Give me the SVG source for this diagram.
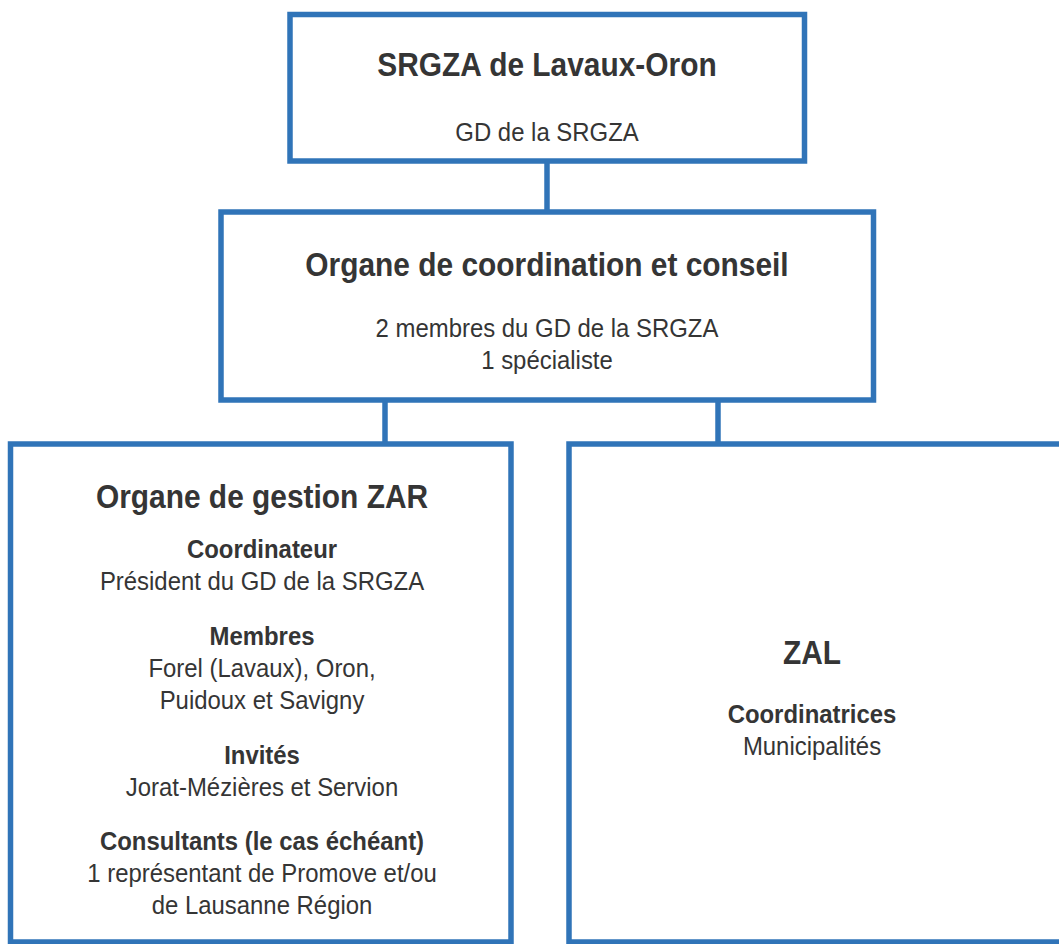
<svg xmlns="http://www.w3.org/2000/svg" width="1059" height="944" viewBox="0 0 1059 944">
<style>
.box{fill:#ffffff;stroke:#3074b8;stroke-width:5.5}
.conn{stroke:#3074b8;stroke-width:5.5;fill:none}
text{font-family:"Liberation Sans",Arial,sans-serif;fill:#353535;text-anchor:middle}
.t{font-size:32.5px;font-weight:bold}
.h{font-size:26px;font-weight:bold}
.b{font-size:26px}
</style>
<rect width="1059" height="944" fill="#ffffff"/>
<g id="connectors">
<line class="conn" x1="547" y1="161" x2="547" y2="212"/>
<line class="conn" x1="385" y1="400" x2="385" y2="444"/>
<line class="conn" x1="718" y1="400" x2="718" y2="444"/>
</g>
<g id="srgza">
<rect class="box" x="290" y="14.5" width="514.5" height="146.5"/>
<g transform="translate(547 0) scale(0.92 1)">
<text class="t" x="0" y="76">SRGZA de Lavaux-Oron</text>
<text class="b" x="0" y="141">GD de la SRGZA</text>
</g>
</g>
<g id="coordination">
<rect class="box" x="221" y="212" width="652.5" height="188"/>
<g transform="translate(547 0) scale(0.92 1)">
<text class="t" x="0" y="276">Organe de coordination et conseil</text>
<text class="b" x="0" y="337">2 membres du GD de la SRGZA</text>
<text class="b" x="0" y="369">1 spécialiste</text>
</g>
</g>
<g id="zar">
<rect class="box" x="10.5" y="444" width="500.5" height="498"/>
<g transform="translate(262 0) scale(0.92 1)">
<text class="t" x="0" y="508">Organe de gestion ZAR</text>
<text class="h" x="0" y="558">Coordinateur</text>
<text class="b" x="0" y="590">Président du GD de la SRGZA</text>
<text class="h" x="0" y="645">Membres</text>
<text class="b" x="0" y="677">Forel (Lavaux), Oron,</text>
<text class="b" x="0" y="709">Puidoux et Savigny</text>
<text class="h" x="0" y="764">Invités</text>
<text class="b" x="0" y="796">Jorat-Mézières et Servion</text>
<text class="h" x="0" y="850">Consultants (le cas échéant)</text>
<text class="b" x="0" y="882">1 représentant de Promove et/ou</text>
<text class="b" x="0" y="914">de Lausanne Région</text>
</g>
</g>
<g id="zal">
<rect class="box" x="569" y="444" width="500" height="498"/>
<g transform="translate(812 0) scale(0.92 1)">
<text class="t" x="0" y="664">ZAL</text>
<text class="h" x="0" y="723">Coordinatrices</text>
<text class="b" x="0" y="755">Municipalités</text>
</g>
</g>
</svg>
